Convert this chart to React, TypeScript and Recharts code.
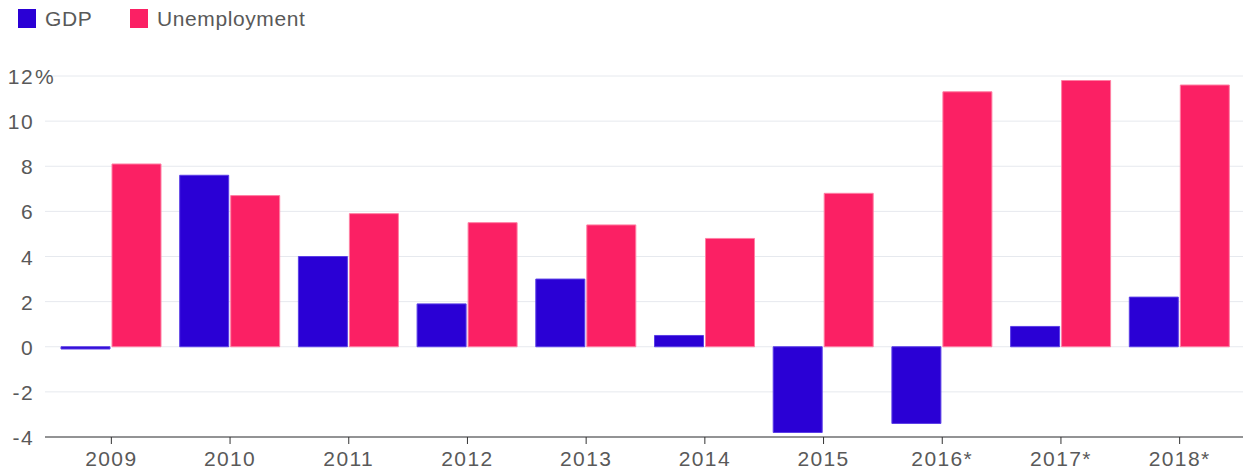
import React from "react";
import {
  BarChart,
  Bar,
  XAxis,
  YAxis,
  CartesianGrid,
  Legend,
} from "recharts";

const years = ["2009", "2010", "2011", "2012", "2013", "2014", "2015", "2016*", "2017*", "2018*"];
const gdp = [-0.1, 7.6, 4.0, 1.9, 3.0, 0.5, -3.8, -3.4, 0.9, 2.2];
const unemployment = [8.1, 6.7, 5.9, 5.5, 5.4, 4.8, 6.8, 11.3, 11.8, 11.6];
const yTicks = [-4, -2, 0, 2, 4, 6, 8, 10, 12];

const data = years.map((year, i) => ({
  year,
  gdp: gdp[i],
  unemployment: unemployment[i],
}));

const FONT = '"Liberation Sans", Arial, Helvetica, sans-serif';
const TEXT = "#595959";
const BLUE = "#2a00d5";
const PINK = "#fb2064";

const XTick = (props: any) => {
  const { x, y, payload } = props;
  return (
    <text
      x={x}
      y={y}
      dy={20}
      textAnchor="middle"
      fill={TEXT}
      style={{ fontFamily: FONT, fontSize: 21, letterSpacing: "1.4px" }}
    >
      {payload.value}
    </text>
  );
};

const YTick = (props: any) => {
  const { y, payload } = props;
  const isTop = payload.value === 12;
  return (
    <g>
      <text
        x={34}
        y={y}
        dy={8}
        textAnchor="end"
        fill={TEXT}
        style={{ fontFamily: FONT, fontSize: 21, letterSpacing: "1.4px" }}
      >
        {payload.value}
      </text>
      {isTop && (
        <text
          x={35}
          y={y}
          dy={8}
          textAnchor="start"
          fill={TEXT}
          style={{ fontFamily: FONT, fontSize: 21 }}
        >
          %
        </text>
      )}
    </g>
  );
};

const LegendContent = () => (
  <div style={{ position: "relative", height: 40, width: 400, fontFamily: FONT }}>
    {[
      { label: "GDP", color: BLUE, left: 18 },
      { label: "Unemployment", color: PINK, left: 130 },
    ].map((item) => (
      <div
        key={item.label}
        style={{
          position: "absolute",
          left: item.left,
          top: 9,
          display: "flex",
          alignItems: "center",
          height: 19,
        }}
      >
        <span
          style={{
            display: "inline-block",
            width: 18,
            height: 19,
            background: item.color,
            marginRight: 9,
          }}
        />
        <span style={{ fontSize: 21, color: TEXT, letterSpacing: "0.6px" }}>
          {item.label}
        </span>
      </div>
    ))}
  </div>
);

export default function App() {
  return (
    <div style={{ position: "absolute", left: 0, top: 0, background: "#fff" }}>
      <BarChart
        width={1243}
        height={474}
        data={data}
        margin={{ top: 36, right: 0, left: 0, bottom: 0 }}
        barSize={49}
        barGap={2}
      >
        <Legend
          verticalAlign="top"
          align="left"
          content={<LegendContent />}
          wrapperStyle={{ top: 0, left: 0, height: 40 }}
        />
        <CartesianGrid vertical={false} stroke="#e6e9ee" strokeWidth={1} />
        <XAxis
          dataKey="year"
          height={37}
          padding={{ left: 7, right: 4 }}
          axisLine={{ stroke: "#333", strokeWidth: 1 }}
          tickLine={{ stroke: "#333", strokeWidth: 1 }}
          tickSize={7}
          tick={<XTick />}
          interval={0}
        />
        <YAxis
          width={45}
          domain={[-4, 12]}
          ticks={yTicks}
          axisLine={false}
          tickLine={false}
          tick={<YTick />}
          allowDataOverflow
        />
        <Bar
          dataKey="gdp"
          name="GDP"
          fill={BLUE}
          stroke="#5b3ee6"
          strokeWidth={1}
          isAnimationActive={false}
        />
        <Bar
          dataKey="unemployment"
          name="Unemployment"
          fill={PINK}
          stroke="#ff7fa3"
          strokeWidth={1}
          isAnimationActive={false}
        />
      </BarChart>
    </div>
  );
}
